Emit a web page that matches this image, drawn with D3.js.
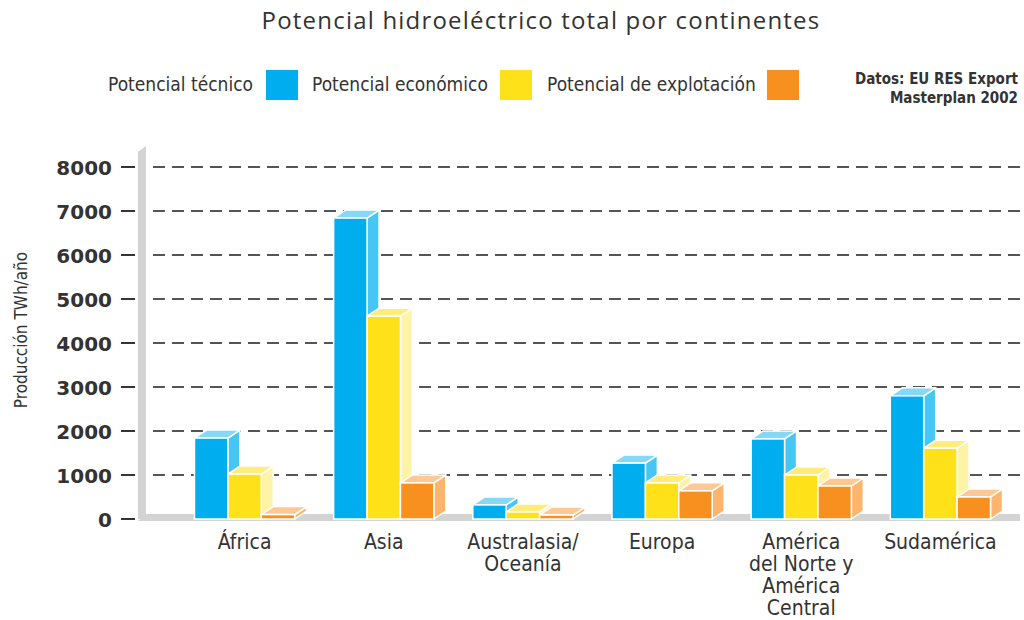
<!DOCTYPE html>
<html><head><meta charset="utf-8">
<script src="https://cdn.jsdelivr.net/npm/d3@7"></script>
<style>body{margin:0;background:#fff}</style>
</head><body>
<svg id="c" width="1024" height="620"></svg>
<script>
const categories = ["África","Asia","Australasia/\nOceanía","Europa","América\ndel Norte y\nAmérica\nCentral","Sudamérica"];
const seriesNames = ["Potencial técnico","Potencial económico","Potencial de explotación"];
const tecnico = [1840, 6840, 320, 1270, 1820, 2800];
const economico = [1020, 4610, 160, 820, 1000, 1610];
const explotacion = [100, 820, 90, 640, 750, 500];
const yTicks = [0,1000,2000,3000,4000,5000,6000,7000,8000];

const front = ["#00aeef","#ffe11a","#f7901e"];
const side  = ["#45c6f3","#fff3a8","#fdb56e"];
const top_  = ["#86d8f7","#ffec7a","#fdc894"];
const values = [tecnico, economico, explotacion];

const svg = d3.select("#c");
const font = "'DejaVu Sans Condensed','Open Sans',sans-serif";
const x = d3.scaleBand().domain(d3.range(categories.length)).range([175,1010]).paddingInner(0.28).paddingOuter(0.14);
const xi = d3.scaleBand().domain(d3.range(3)).range([0, x.bandwidth()]);
const y = d3.scaleLinear().domain([0,8000]).range([519,167]);
const dx = 12, dy = 8;

// title
svg.append("text").attr("x",541).attr("y",29).attr("text-anchor","middle")
  .attr("font-family","'Open Sans',sans-serif").attr("font-size",24).attr("letter-spacing",1.2).attr("fill","#333")
  .text("Potencial hidroeléctrico total por continentes");

// legend
const legItems = [{t:seriesNames[0],tx:108,bx:266},{t:seriesNames[1],tx:312,bx:500},{t:seriesNames[2],tx:547,bx:767}];
legItems.forEach((d,i)=>{
  svg.append("text").attr("x",d.tx).attr("y",91).attr("font-family",font).attr("font-size",19).attr("fill","#333").text(d.t);
  svg.append("rect").attr("x",d.bx).attr("y",70).attr("width",32).attr("height",30).attr("fill",front[i]);
});
svg.append("text").attr("x",1018).attr("y",84).attr("text-anchor","end").attr("font-family",font).attr("font-weight","bold").attr("font-size",15).attr("fill","#333").text("Datos: EU RES Export");
svg.append("text").attr("x",1018).attr("y",103).attr("text-anchor","end").attr("font-family",font).attr("font-weight","bold").attr("font-size",15).attr("fill","#333").text("Masterplan 2002");

// wall and floor
svg.append("polygon").attr("points",[[138,519],[138,152],[146,146],[146,519]].join(" ")).attr("fill","#d3d3d3");
svg.append("polygon").attr("points",[[138,521],[146,514],[1020,514],[1020,521]].join(" ")).attr("fill","#d3d3d3");

// gridlines
svg.append("g").selectAll("line").data(yTicks.filter(d=>d>0)).join("line")
  .attr("x1",153).attr("x2",1020).attr("y1",d=>y(d)).attr("y2",d=>y(d))
  .attr("stroke","#555").attr("stroke-width",2).attr("stroke-dasharray","12,7");

// y axis
const yAxis = d3.axisLeft(y).tickValues(yTicks).tickFormat(d3.format("d")).tickSize(0).tickPadding(0);
const ga = svg.append("g").attr("transform","translate(112,0)").call(yAxis);
ga.select(".domain").remove();
ga.selectAll("text").attr("font-family","'DejaVu Sans',sans-serif").attr("font-weight","bold").attr("font-size",20).attr("fill","#333").attr("dx",0).attr("dy","0.35em");
svg.append("g").selectAll("line").data(yTicks).join("line")
  .attr("x1",121).attr("x2",135).attr("y1",d=>y(d)).attr("y2",d=>y(d)).attr("stroke","#333").attr("stroke-width",2);

svg.append("text").attr("transform","translate(27,330) rotate(-90)").attr("text-anchor","middle")
  .attr("font-family",font).attr("font-size",17).attr("fill","#333").text("Producción TWh/año");

// bars
categories.forEach((c,ci)=>{
  const g = svg.append("g");
  values.forEach((vals,si)=>{
    const x0 = x(ci)+xi(si), w = xi.bandwidth(), y0 = y(0), y1 = y(vals[ci]);
    g.append("polygon").attr("points",[[x0+w,y1],[x0+w+dx,y1-dy],[x0+w+dx,y0-dy],[x0+w,y0]].join(" "))
      .attr("fill",side[si]).attr("stroke","#fff").attr("stroke-width",1.5).attr("stroke-linejoin","round");
    g.append("polygon").attr("points",[[x0,y1],[x0+dx,y1-dy],[x0+w+dx,y1-dy],[x0+w,y1]].join(" "))
      .attr("fill",top_[si]).attr("stroke","#fff").attr("stroke-width",1.5).attr("stroke-linejoin","round");
    g.append("rect").attr("x",x0).attr("y",y1).attr("width",w).attr("height",y0-y1)
      .attr("fill",front[si]).attr("stroke","#fff").attr("stroke-width",1.5);
  });
});

// x labels
categories.forEach((c,ci)=>{
  const t = svg.append("text").attr("text-anchor","middle").attr("font-family",font).attr("font-size",21).attr("fill","#333");
  c.split("\n").forEach((line,li)=>{
    t.append("tspan").attr("x",x(ci)+x.bandwidth()/2).attr("y",549+li*22).text(line);
  });
});
</script>
</body></html>
